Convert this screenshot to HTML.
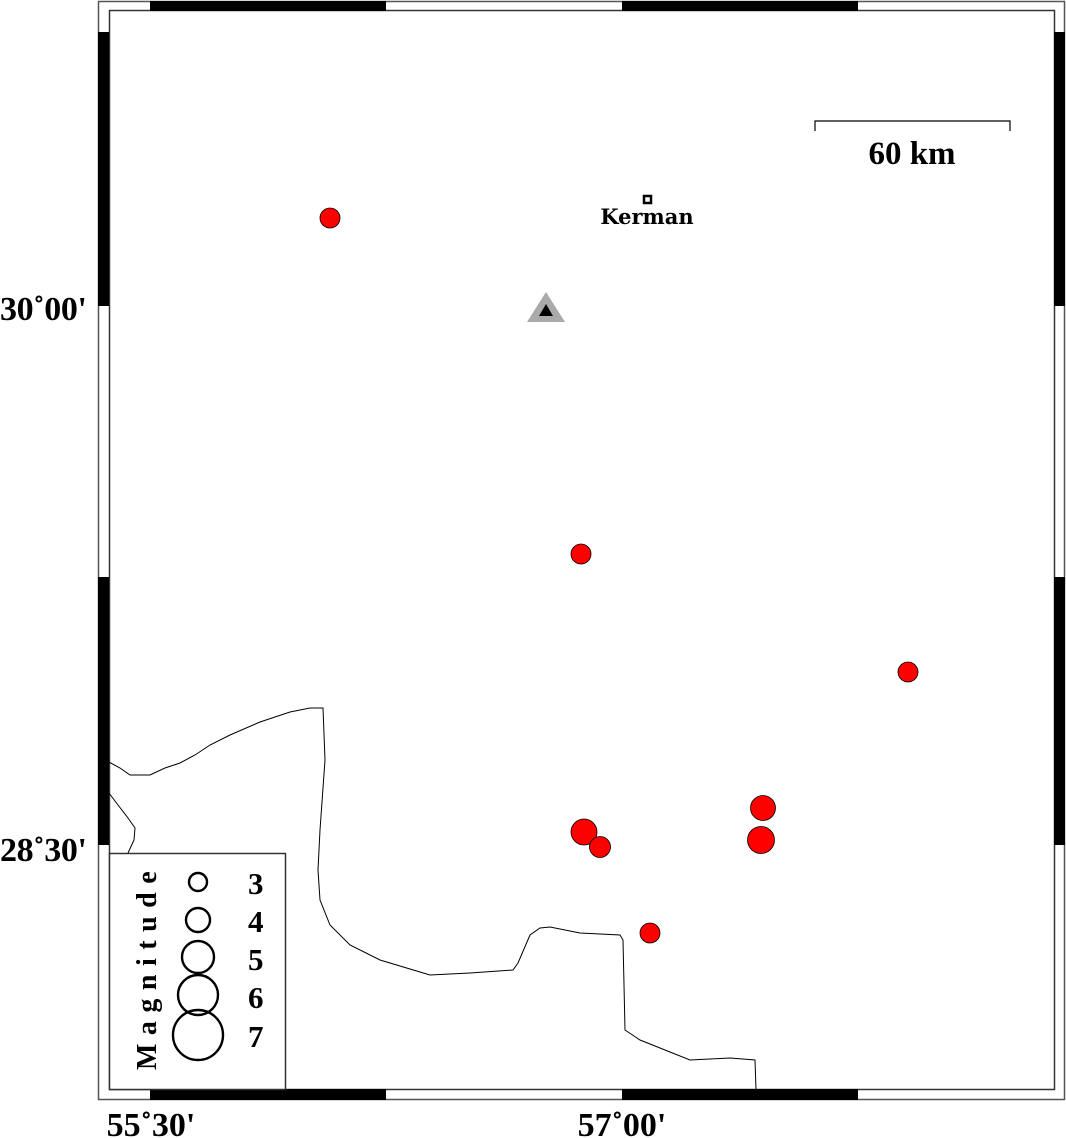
<!DOCTYPE html>
<html><head><meta charset="utf-8"><style>
html,body{margin:0;padding:0;background:#fff}
svg{display:block}
</style></head><body>
<svg width="1066" height="1138" viewBox="0 0 1066 1138" xmlns="http://www.w3.org/2000/svg">
<rect width="1066" height="1138" fill="#fff"/>
<rect x="98.5" y="1.5" width="966" height="1098" fill="none" stroke="#555" stroke-width="1.5"/>
<rect x="109.5" y="10.5" width="945" height="1079" fill="none" stroke="#333" stroke-width="1.5"/>
<g fill="#000">
<rect x="150" y="1" width="236" height="10"/>
<rect x="622" y="1" width="236" height="10"/>
<rect x="150" y="1089" width="236" height="11"/>
<rect x="622" y="1089" width="236" height="11"/>
<rect x="98" y="32" width="11" height="274"/>
<rect x="98" y="577" width="11" height="268"/>
<rect x="1054" y="32" width="11" height="274"/>
<rect x="1054" y="577" width="11" height="268"/>
</g>
<g fill="none" stroke="#000" stroke-width="1">
<polyline points="109,762 120,768 130,775 150,775 165,768 180,763 195,755 210,745 230,735 260,722 290,712 310,708 323,708 325,760 320,830 318,870 320,900 330,925 350,945 380,960 430,975 470,973 513,970 518,963 530,935 540,928 550,927 580,933 620,935 623,940 625,1030 640,1040 660,1048 690,1060 730,1058 755,1060 756,1089"/>
<polyline points="109,793 118,805 128,818 135,828 134,840 128,853"/>
</g>
<rect x="109.5" y="853.5" width="176" height="236" fill="#fff" stroke="#333" stroke-width="1.5"/>
<text transform="translate(156,1070) rotate(-90)" font-family="Liberation Serif,serif" font-weight="bold" font-size="28" letter-spacing="8.5">Magnitude</text>
<g fill="none" stroke="#000" stroke-width="2.4">
<circle cx="198" cy="882" r="9"/>
<circle cx="198" cy="920" r="12"/>
<circle cx="198" cy="957" r="16"/>
<circle cx="198" cy="995" r="20"/>
<circle cx="198" cy="1035" r="25"/>
</g>
<g font-family="Liberation Serif,serif" font-weight="bold" font-size="31" fill="#000">
<text x="248" y="894">3</text>
<text x="248" y="932">4</text>
<text x="248" y="970">5</text>
<text x="248" y="1008">6</text>
<text x="248" y="1047">7</text>
</g>
<g fill="#f00" stroke="#000" stroke-width="0.8">
<circle cx="330" cy="218" r="10"/>
<circle cx="581" cy="554" r="10"/>
<circle cx="908" cy="672" r="10"/>
<circle cx="763" cy="808" r="12.5"/>
<circle cx="761" cy="840" r="13.5"/>
<circle cx="584" cy="832" r="13"/>
<circle cx="600" cy="847" r="10.5"/>
<circle cx="650" cy="933" r="10"/>
</g>
<polygon points="546,292 565,322 527,322" fill="#aaa"/>
<polygon points="546,304 553,316 539,316" fill="#000"/>
<rect x="644" y="196" width="7" height="7" fill="#fff" stroke="#000" stroke-width="2.5"/>
<text x="647" y="224" text-anchor="middle" font-family="DejaVu Serif,serif" font-weight="bold" font-size="21">Kerman</text>
<polyline points="815,131 815,121 1010,121 1010,131" fill="none" stroke="#000" stroke-width="1.2"/>
<text x="912" y="164" text-anchor="middle" font-family="Liberation Serif,serif" font-weight="bold" font-size="33">60 km</text>
<g font-family="Liberation Serif,serif" font-weight="bold" font-size="34" fill="#000">
<text x="0" y="320" textLength="87">30˚00'</text>
<text x="0" y="861" textLength="87">28˚30'</text>
<text x="151" y="1136" text-anchor="middle">55˚30'</text>
<text x="622" y="1136" text-anchor="middle">57˚00'</text>
</g>
</svg>
</body></html>
